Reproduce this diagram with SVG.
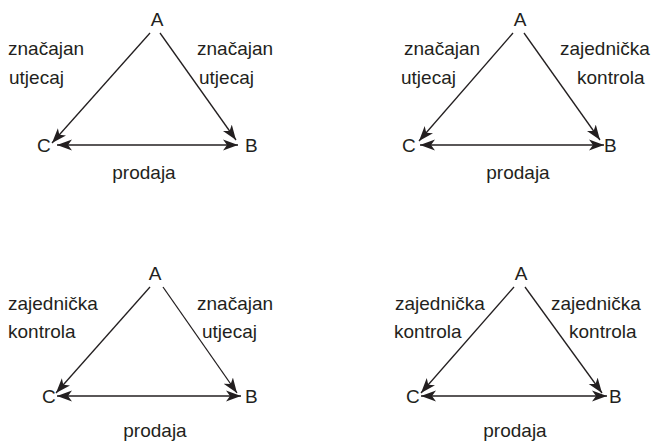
<svg xmlns="http://www.w3.org/2000/svg" width="652" height="443" viewBox="0 0 652 443">
<style>
text{font-family:"Liberation Sans",Arial,sans-serif;font-size:19px;fill:#231f20}
.m{text-anchor:middle}
.e{fill:none;stroke:#231f20;stroke-width:1.3}
</style>
<defs>
<marker id="ah" markerUnits="userSpaceOnUse" markerWidth="16" markerHeight="12" viewBox="0 0 16 12" refX="15" refY="6" orient="auto-start-reverse">
<path d="M0,0.5 L15,6 L0,11.5 L4,6 z" fill="#231f20"/>
</marker>
</defs>
<rect width="652" height="443" fill="#fff"/>
<g id="connectors">
<line class="e" x1="150" y1="33" x2="52" y2="143" marker-end="url(#ah)"/>
<line class="e" x1="160" y1="33" x2="236" y2="140" marker-end="url(#ah)"/>
<line class="e" x1="57" y1="145" x2="238" y2="145" marker-start="url(#ah)" marker-end="url(#ah)"/>
<line class="e" x1="513" y1="33" x2="419" y2="141" marker-end="url(#ah)"/>
<line class="e" x1="524" y1="33" x2="600" y2="140" marker-end="url(#ah)"/>
<line class="e" x1="420" y1="145" x2="604" y2="145" marker-start="url(#ah)" marker-end="url(#ah)"/>
<line class="e" x1="150" y1="287" x2="56" y2="393" marker-end="url(#ah)"/>
<line class="e" x1="163" y1="287" x2="237" y2="393" marker-end="url(#ah)"/>
<line class="e" x1="57" y1="396" x2="241" y2="396" marker-start="url(#ah)" marker-end="url(#ah)"/>
<line class="e" x1="514" y1="287" x2="421" y2="393" marker-end="url(#ah)"/>
<line class="e" x1="525" y1="287" x2="602" y2="393" marker-end="url(#ah)"/>
<line class="e" x1="421" y1="396" x2="607" y2="396" marker-start="url(#ah)" marker-end="url(#ah)"/>
</g>
<g id="p1">
<g id="p1-A"><text class="m" x="157" y="26">A</text></g>
<g id="p1-C"><text x="37" y="152">C</text></g>
<g id="p1-B"><text x="245" y="152">B</text></g>
<text x="8" y="55">značajan</text><text x="9" y="84">utjecaj</text>
<text x="197" y="55">značajan</text><text x="199" y="84">utjecaj</text>
<text class="m" x="144" y="179">prodaja</text>
</g>
<g id="p2">
<g id="p2-A"><text class="m" x="520" y="26">A</text></g>
<g id="p2-C"><text x="402" y="152">C</text></g>
<g id="p2-B"><text x="604" y="152">B</text></g>
<text x="404" y="55">značajan</text><text x="401" y="84">utjecaj</text>
<text x="560" y="55">zajednička</text><text x="577" y="84">kontrola</text>
<text class="m" x="518" y="179">prodaja</text>
</g>
<g id="p3">
<g id="p3-A"><text class="m" x="155" y="280">A</text></g>
<g id="p3-C"><text x="42" y="403">C</text></g>
<g id="p3-B"><text x="245" y="403">B</text></g>
<text x="8" y="310">zajednička</text><text x="8" y="338">kontrola</text>
<text x="197" y="310">značajan</text><text x="202" y="338">utjecaj</text>
<text class="m" x="155" y="437">prodaja</text>
</g>
<g id="p4">
<g id="p4-A"><text class="m" x="521" y="280">A</text></g>
<g id="p4-C"><text x="406" y="403">C</text></g>
<g id="p4-B"><text x="609" y="403">B</text></g>
<text x="395" y="310">zajednička</text><text x="394" y="338">kontrola</text>
<text x="551" y="310">zajednička</text><text x="569" y="338">kontrola</text>
<text class="m" x="515" y="437">prodaja</text>
</g>
</svg>
